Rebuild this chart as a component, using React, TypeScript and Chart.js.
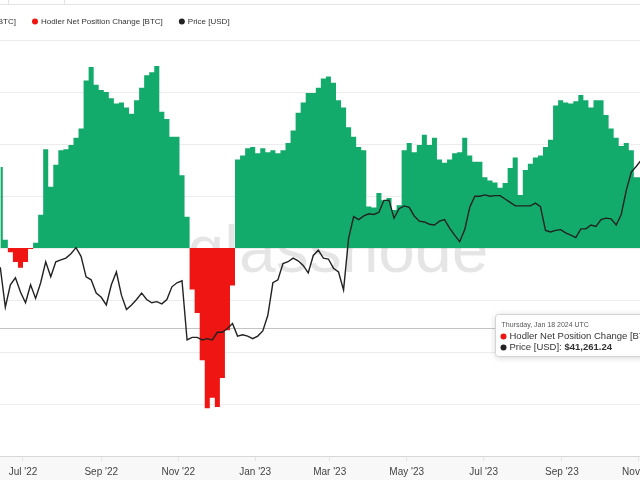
import React, { useEffect, useRef } from "react";
import { Chart, registerables } from "chart.js";

Chart.register(...registerables);

// ---------- data ----------
const seriesStart = "2022-06-13";
const stepDays = 4;

// Hodler Net Position Change [BTC], one value every 4 days
const netPosition = [
  78000, 8000, -4000, -13500, -19000, -13500, -1000, 5000, 32000, 95000,
  59000, 80000, 94000, 95000, 99000, 106000, 115000, 161000, 174000, 157000,
  152000, 150000, 144000, 139000, 140000, 135000, 129000, 142000, 154000, 166000,
  169000, 175000, 131000, 124000, 107000, 107000, 70000, 30000, -40000, -62500,
  -108000, -154000, -144000, -153000, -125000, -79000, -36000, 85000, 89000, 96000,
  97000, 91000, 96000, 92000, 94000, 91000, 94000, 101000, 113000, 130000,
  140000, 149000, 149000, 154000, 163000, 165000, 159000, 142000, 135000, 116000,
  107000, 97000, 94000, 40000, 39000, 53000, 46000, 48000, 36500, 41000,
  94000, 101000, 92000, 99000, 109000, 99000, 106000, 85000, 82000, 85000,
  91000, 92000, 106000, 89000, 83000, 83000, 68000, 65000, 63000, 58000,
  62500, 77000, 87000, 51000, 75000, 81000, 87000, 89000, 97000, 104000,
  137000, 142000, 140000, 139000, 141000, 147000, 142000, 135000, 142000, 142000,
  128000, 115000, 106000, 98000, 101000, 94000, 68000, 68000,
];

// Price [USD], same dates
const price = [
  23000, 19100, 21200, 21900, 20500, 19500, 21200, 19900, 21400, 23600,
  22000, 23600, 23800, 24000, 24500, 25200, 24200, 22000, 21700, 20400,
  20000, 19300, 21200, 22500, 20200, 18900, 19300, 19800, 20400, 19800,
  19500, 19600, 19400, 19800, 21000, 21400, 21600, 16400, 16600, 16600,
  16400, 16500, 16400, 17000, 17000, 17300, 17700, 16700, 16800, 16700,
  16500, 16700, 17100, 18400, 21400, 21700, 23400, 23600, 24000, 23700,
  23200, 22400, 24300, 24900, 24000, 23900, 22900, 22500, 20700, 26300,
  29100, 28700, 29200, 29500, 29400, 29700, 31400, 31400, 28900, 30200,
  30600, 30400, 29200, 28500, 28400, 28100, 28000, 28500, 28700, 27600,
  26700, 25900, 27400, 30400, 32000, 32000, 32200, 32000, 32100, 32100,
  31600, 31100, 30600, 30600, 30600, 30600, 31000, 30500, 27300, 27100,
  27300, 27400, 27000, 26700, 26400, 27500, 27500, 28000, 27800, 28700,
  28900, 28800, 28000, 29400, 32900, 35800, 36800, 37900,
];

const tickDates = [
  "2022-07-01", "2022-09-01", "2022-11-01", "2023-01-01", "2023-03-01",
  "2023-05-01", "2023-07-01", "2023-09-01", "2023-11-01",
];
const tickLabels = [
  "Jul '22", "Sep '22", "Nov '22", "Jan '23", "Mar '23",
  "May '23", "Jul '23", "Sep '23", "Nov '23",
];
const xWindow = ["2022-06-12T18:45:00Z", "2023-11-01T21:00:00Z"];
const netAxis = { min: -200000, max: 200000, step: 50000 };
const priceAxis = { min: 9560, max: 66200 };

const legendLabels = [
  "Hodler Net Position Change [BTC]",
  "Hodler Net Position Change [BTC]",
  "Price [USD]",
];
const tooltipDate = "Thursday, Jan 18 2024 UTC";
const tooltipPriceValue = "$41,261.24";
const crosshairValue = -77000;

const GREEN = "#13ab6b";
const RED = "#ee1512";
const BLACK = "#222222";
const FONT = '"Liberation Sans", Arial, Helvetica, sans-serif';

const DAY = 86400000;
const toTs = (d: string) => Date.parse(d.length === 10 ? d + "T00:00:00Z" : d);

function dot(ctx: CanvasRenderingContext2D, x: number, y: number, r: number, c: string) {
  ctx.beginPath();
  ctx.arc(x, y, r, 0, Math.PI * 2);
  ctx.fillStyle = c;
  ctx.fill();
}

const decorPlugin = {
  id: "decor",
  beforeDraw(chart: any) {
    const { ctx, width, height, chartArea } = chart;
    ctx.save();
    ctx.fillStyle = "#ffffff";
    ctx.fillRect(0, 0, width, height);
    ctx.fillStyle = "#f8f8f8";
    ctx.fillRect(0, chartArea.bottom, width, height - chartArea.bottom);
    // top toolbar edge
    ctx.strokeStyle = "#e3e3e3";
    ctx.lineWidth = 1;
    ctx.beginPath();
    ctx.moveTo(0, 4.5);
    ctx.lineTo(width, 4.5);
    ctx.moveTo(8.5, 0);
    ctx.lineTo(8.5, 4.5);
    ctx.moveTo(64.5, 0);
    ctx.lineTo(64.5, 4.5);
    ctx.stroke();
    ctx.restore();
  },
  beforeDatasetsDraw(chart: any) {
    const { ctx, chartArea, scales } = chart;
    ctx.save();
    // crosshair
    const cy = Math.round(scales.y.getPixelForValue(crosshairValue)) + 0.5;
    ctx.strokeStyle = "#c4c4c4";
    ctx.lineWidth = 1;
    ctx.beginPath();
    ctx.moveTo(chartArea.left, cy);
    ctx.lineTo(chartArea.right, cy);
    ctx.stroke();
    // watermark
    const midY = scales.y.getPixelForValue(0);
    ctx.font = `66px ${FONT}`;
    ctx.fillStyle = "rgba(0,0,0,0.1)";
    ctx.textAlign = "center";
    ctx.textBaseline = "alphabetic";
    ctx.fillText("glassnode", (chartArea.left + chartArea.right) / 2 + 18, midY + 24);
    ctx.restore();
  },
  afterDraw(chart: any) {
    const { ctx } = chart;
    ctx.save();
    // legend
    const colors = [GREEN, RED, BLACK];
    ctx.font = `8px ${FONT}`;
    ctx.textBaseline = "middle";
    ctx.textAlign = "left";
    const ly = 21.5;
    const firstW = ctx.measureText(legendLabels[0]).width;
    let x = 16 - firstW - 6;
    legendLabels.forEach((t, i) => {
      dot(ctx, x, ly, 3, colors[i]);
      ctx.fillStyle = "#333";
      ctx.fillText(t, x + 6, ly);
      x += 6 + ctx.measureText(t).width + 19;
    });
    // tooltip box
    const bx = 495.5, by = 314.5, bw = 170, bh = 42;
    ctx.shadowColor = "rgba(0,0,0,0.18)";
    ctx.shadowBlur = 6;
    ctx.shadowOffsetY = 1;
    ctx.fillStyle = "#ffffff";
    ctx.beginPath();
    ctx.roundRect(bx, by, bw, bh, 3);
    ctx.fill();
    ctx.shadowColor = "transparent";
    ctx.strokeStyle = "#d4d4d4";
    ctx.lineWidth = 1;
    ctx.stroke();
    ctx.fillStyle = "#555";
    ctx.font = `7px ${FONT}`;
    ctx.fillText(tooltipDate, bx + 6, by + 11);
    ctx.font = `9.5px ${FONT}`;
    dot(ctx, bx + 8, by + 22, 3, RED);
    ctx.fillStyle = "#333";
    ctx.fillText(legendLabels[1], bx + 14, by + 22);
    dot(ctx, bx + 8, by + 33, 3, BLACK);
    ctx.fillStyle = "#333";
    const lbl = "Price [USD]: ";
    ctx.fillText(lbl, bx + 14, by + 33);
    const w = ctx.measureText(lbl).width;
    ctx.font = `bold 9.5px ${FONT}`;
    ctx.fillText(tooltipPriceValue, bx + 14 + w, by + 33);
    ctx.restore();
  },
};

export default function App() {
  const ref = useRef<HTMLCanvasElement | null>(null);
  useEffect(() => {
    if (!ref.current) return;
    const start = toTs(seriesStart);
    const netPts = netPosition.map((v, i) => ({ x: start + i * stepDays * DAY, y: v }));
    const pricePts = price.map((v, i) => ({ x: start + i * stepDays * DAY, y: v }));
    const chart = new Chart(ref.current, {
      type: "line",
      data: {
        datasets: [
          {
            label: "Price [USD]",
            data: pricePts,
            yAxisID: "yPrice",
            borderColor: BLACK,
            borderWidth: 1.4,
            pointRadius: 0,
            fill: false,
            tension: 0,
            order: 0,
          },
          {
            label: legendLabels[0],
            data: netPts,
            yAxisID: "y",
            borderWidth: 0,
            borderColor: "rgba(0,0,0,0)",
            pointRadius: 0,
            stepped: "middle",
            fill: { target: "origin", above: GREEN, below: RED },
            order: 1,
          },
        ],
      },
      options: {
        responsive: false,
        devicePixelRatio: 1,
        animation: false,
        events: [],
        layout: { padding: { top: 40, left: 0, right: 0, bottom: 0 } },
        plugins: { legend: { display: false }, tooltip: { enabled: false } },
        scales: {
          x: {
            type: "linear",
            min: toTs(xWindow[0]),
            max: toTs(xWindow[1]),
            border: { display: true, color: "#d8d8d8" },
            grid: { display: true, drawOnChartArea: false, drawTicks: true, tickLength: 5, color: "#e4e4e4" },
            afterBuildTicks: (s: any) => {
              s.ticks = tickDates.map((d) => ({ value: toTs(d) }));
            },
            afterFit: (s: any) => {
              s.height = 24;
              s.paddingLeft = 0;
              s.paddingRight = 0;
            },
            ticks: {
              autoSkip: false,
              maxRotation: 0,
              minRotation: 0,
              padding: 5,
              color: "#444",
              font: { family: FONT, size: 10 },
              callback: (_v: any, i: number) => tickLabels[i],
            },
          },
          y: {
            type: "linear",
            position: "left",
            min: netAxis.min,
            max: netAxis.max,
            border: { display: false },
            grid: { color: "#ececec", drawTicks: false },
            ticks: { display: false, stepSize: netAxis.step },
            afterFit: (s: any) => {
              s.width = 0;
            },
          },
          yPrice: {
            type: "logarithmic",
            position: "right",
            display: false,
            min: priceAxis.min,
            max: priceAxis.max,
          },
        },
      },
      plugins: [decorPlugin],
    } as any);
    return () => chart.destroy();
  }, []);
  return (
    <div style={{ position: "fixed", left: 0, top: 0, width: 640, height: 480, background: "#fff" }}>
      <canvas ref={ref} width={640} height={480} style={{ display: "block" }} />
    </div>
  );
}
